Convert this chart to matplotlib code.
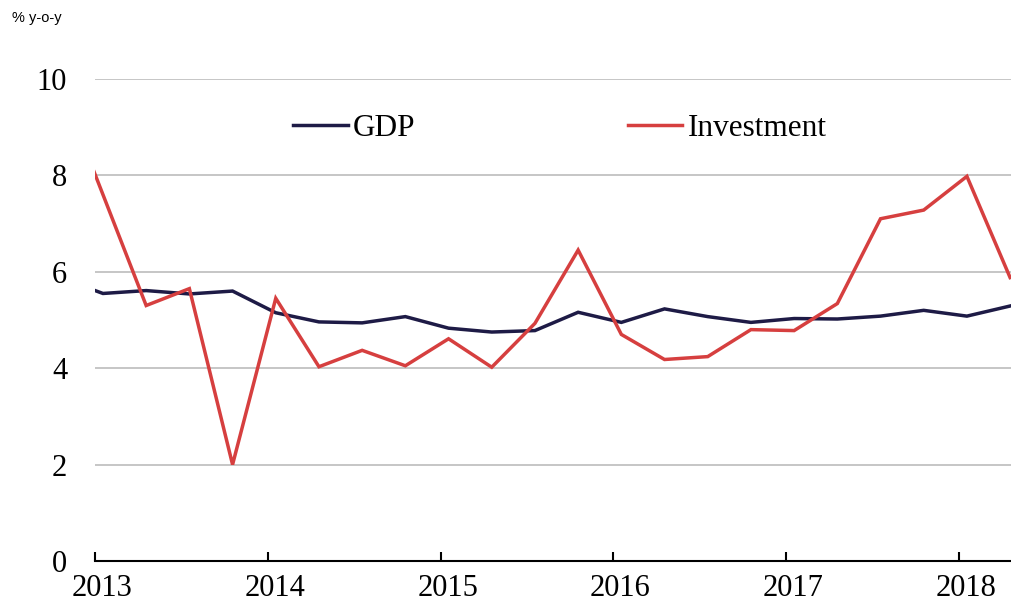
import matplotlib
matplotlib.use("Agg")
from matplotlib import pyplot as plt
from matplotlib.transforms import ScaledTranslation

# quarterly points, first one (2012 Q4) sits just left of the axis and is clipped
quarters = [2012.796 + 0.25 * i for i in range(23)]

gdp = [5.88, 5.55, 5.61, 5.54, 5.60, 5.15, 4.96, 4.94, 5.07, 4.83, 4.75, 4.78,
       5.16, 4.95, 5.23, 5.07, 4.95, 5.03, 5.02, 5.08, 5.20, 5.08, 5.29]
investment = [9.9, 7.6, 5.30, 5.65, 2.00, 5.45, 4.03, 4.37, 4.05, 4.61, 4.02, 4.93,
              6.45, 4.70, 4.18, 4.24, 4.80, 4.78, 5.34, 7.10, 7.28, 7.98, 5.88]

years = [2013, 2014, 2015, 2016, 2017, 2018]
y_ticks = [0, 2, 4, 6, 8, 10]

serif = ["Liberation Serif", "DejaVu Serif"]

fig = plt.figure(figsize=(10.12, 6.07), dpi=100)
ax = fig.add_axes([0.0939, 0.0758, 0.9061, 0.7941])

ax.plot(quarters, gdp, color="#1E1B46", lw=2.5, label="GDP", solid_joinstyle="miter")
ax.plot(quarters, investment, color="#D63F3F", lw=2.5, label="Investment", solid_joinstyle="miter")

ax.set_xlim(2013.0, 2018.307)
ax.set_ylim(0, 10)

ax.set_yticks(y_ticks)
ax.set_yticklabels([str(v) for v in y_ticks], fontfamily=serif, fontsize=22)
ax.set_xticks(years)
ax.set_xticklabels([str(v) for v in years], fontfamily=serif, fontsize=22)

ax.tick_params(axis="y", length=0, pad=20)
ax.tick_params(axis="x", direction="in", length=6.5, width=1.5, pad=9.5)

# labels sit a little right of their ticks
shift = ScaledTranslation(7 / 100, 0, fig.dpi_scale_trans)
for lab in ax.get_xticklabels():
    lab.set_transform(lab.get_transform() + shift)

for v in y_ticks[1:]:
    ax.axhline(v, color="#C6C6C6", lw=1.4, zorder=0)

for side in ["left", "right", "top"]:
    ax.spines[side].set_visible(False)
ax.spines["bottom"].set_linewidth(1.5)
ax.spines["bottom"].set_color("black")

ax.legend(loc="center left", bbox_to_anchor=(0.216, 0.897), ncol=2, frameon=False,
          prop={"family": serif, "size": 22.5}, handlelength=1.75, handletextpad=0.16,
          columnspacing=6.8, borderpad=0, borderaxespad=0)

fig.text(12 / 1012, 1 - 18 / 607, "% y-o-y", fontsize=10.5,
         fontfamily=["Liberation Sans", "DejaVu Sans"], va="center", ha="left")

fig.savefig("out.png", dpi=100)
